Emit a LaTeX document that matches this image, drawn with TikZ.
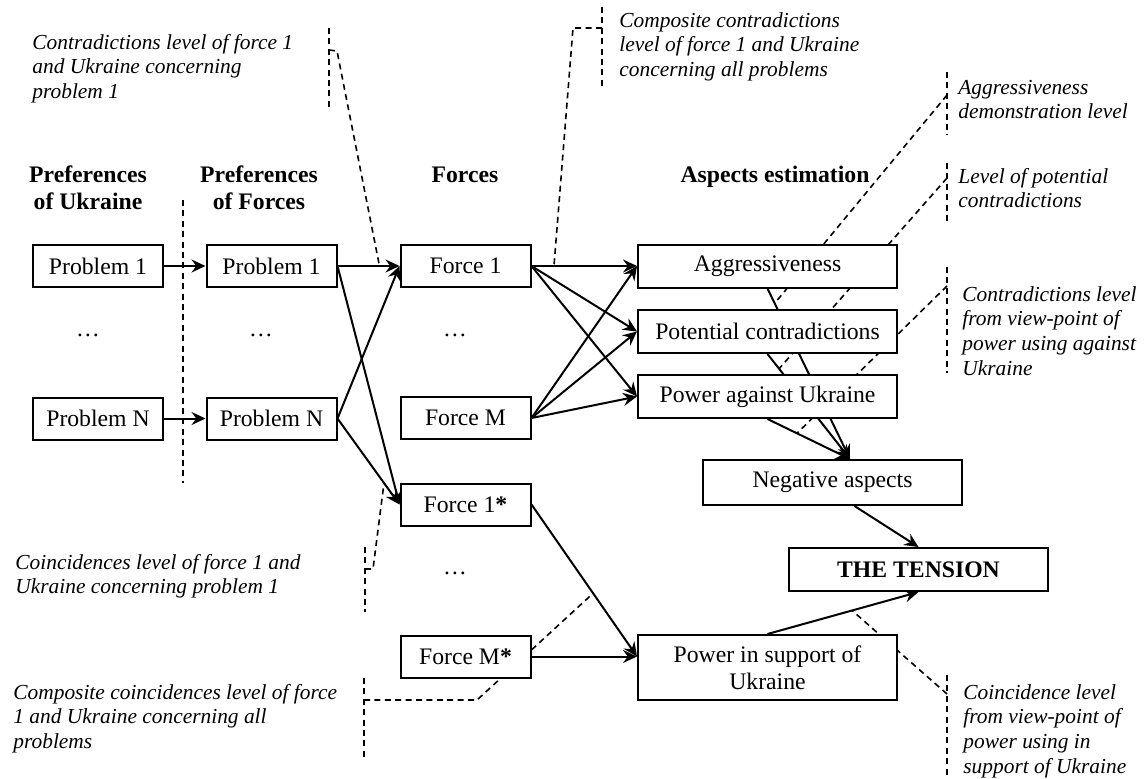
\documentclass[tikz,border=0pt]{standalone}
\usepackage{fontspec}
\setmainfont{Liberation Serif}
\usetikzlibrary{arrows.meta,backgrounds,calc}
\newcommand\upf{\fontsize{11.85}{13.5}\selectfont}
\newcommand\itf{\itshape\fontsize{10.7}{12.4}\selectfont}
\newcommand\lftlines[1]{\vtop{\halign{##\hfil\cr#1\crcr}}}
\newcommand\ctrlines[1]{\vtop{\halign{\hfil##\hfil\cr#1\crcr}}}
\begin{document}
\begin{tikzpicture}[x=0.5pt,y=-0.5pt,
  box/.style={draw,line width=1pt,fill=white,inner sep=0pt,font=\upf,align=center},
  pbox/.style={box,minimum width=65pt,minimum height=21pt},
  abox/.style={box,minimum width=129.5pt,minimum height=21.5pt},
  arr/.style={line width=1pt,-{Stealth[length=7pt,width=6.5pt,inset=2.4pt]}},
  dsh/.style={line width=0.8pt,dash pattern=on 3pt off 2.2pt},
  head/.style={font=\upf\bfseries,inner sep=0pt,anchor=base},
  note/.style={font=\itf,inner sep=0pt,anchor=base west},
  dots/.style={font=\upf,inner sep=0pt,anchor=base}]
\useasboundingbox (0,0) rectangle (1144,778);

% headers
\node[head] (hu) at (88,182) {\ctrlines{Preferences\cr of Ukraine}};
\node[head] (hf) at (259,182) {\ctrlines{Preferences\cr of Forces}};
\node[head] (hfo) at (465,182) {Forces};
\node[head] (ha) at (775,182) {Aspects estimation};

% boxes
\node[pbox] (p1u) at (98,266) {Problem 1};
\node[pbox] (pnu) at (98,418.5) {Problem N};
\node[pbox] (p1f) at (271.5,266) {Problem 1};
\node[pbox] (pnf) at (271.5,418.5) {Problem N};
\node[pbox] (f1) at (465.5,266) {Force 1};
\node[pbox] (fm) at (465.5,418) {Force M};
\node[pbox] (f1s) at (465.5,504.5) {Force 1\textbf{*}};
\node[pbox] (fms) at (465.5,656.5) {Force M\textbf{*}};
\node[abox] (agg) at (767.5,266) {Aggressiveness};
\node[abox] (pot) at (767.5,331.5) {Potential contradictions};
\node[abox] (pow) at (767.5,396.5) {Power against Ukraine};
\node[abox,minimum height=22.5pt] (neg) at (832.5,482.5) {Negative aspects};
\node[abox,font=\upf\bfseries] (ten) at (918.5,569.5) {THE TENSION};
\node[abox,minimum height=32.5pt] (pis) at (767.5,667.5) {Power in support of\\Ukraine};

% dots
\node[dots] (d1) at (88,336.5) {\ldots};
\node[dots] (d2) at (261,336.5) {\ldots};
\node[dots] (d3) at (455,336.5) {\ldots};
\node[dots] (d4) at (455,574.5) {\ldots};

% notes
\node[note] (a1) at (32,49) {\lftlines{Contradictions level of force 1\cr and Ukraine concerning\cr problem 1}};
\node[note] (a2) at (619,27) {\lftlines{Composite contradictions\cr level of force 1 and Ukraine\cr concerning all problems}};
\node[note] (a3) at (958,94) {\lftlines{Aggressiveness\cr demonstration level}};
\node[note] (a4) at (958,183) {\lftlines{Level of potential\cr contradictions}};
\node[note] (a5) at (962,301) {\lftlines{Contradictions level\cr from view-point of\cr power using against\cr Ukraine}};
\node[note] (a6) at (15,569) {\lftlines{Coincidences level of force 1 and\cr Ukraine concerning problem 1}};
\node[note] (a7) at (13,699) {\lftlines{Composite coincidences level of force\cr 1 and Ukraine concerning all\cr problems}};
\node[note] (a8) at (963,699) {\lftlines{Coincidence level\cr from view-point of\cr power using in\cr support of Ukraine}};

% connector helper coordinates
\coordinate (negin) at ([xshift=8.75pt]neg.north);
\coordinate (pisin) at ([yshift=5.5pt]pis.west);
\coordinate (negout) at ([xshift=11pt]neg.south);

\begin{pgfonlayer}{background}
% solid connectors
\draw[arr] (p1u.east) -- (p1f.west);
\draw[arr] (pnu.east) -- (pnf.west);
\draw[arr] (p1f.east) -- (f1.west);
\draw[arr] (pnf.east) -- (f1.west);
\draw[arr] (p1f.east) -- (f1s.west);
\draw[arr] (pnf.east) -- (f1s.west);
\draw[arr] (f1.east) -- (agg.west);
\draw[arr] (f1.east) -- (pot.west);
\draw[arr] (f1.east) -- (pow.west);
\draw[arr] (fm.east) -- (agg.west);
\draw[arr] (fm.east) -- (pot.west);
\draw[arr] (fm.east) -- (pow.west);
\draw[arr] (agg.south) -- (negin);
\draw[arr] (pot.south) -- (negin);
\draw[arr] (pow.south) -- (negin);
\draw[arr] (negout) -- (ten.north);
\draw[arr] (f1s.east) -- (pisin);
\draw[arr] (fms.east) -- (pisin);
\draw[arr] (pis.north) -- (ten.south);

% points on connectors
\coordinate (c1) at ($(p1f.east)!0.677!(f1.west)$);
\coordinate (c2) at ($(f1.east)!0.213!(agg.west)$);
\coordinate (c3) at ($(agg.south)!0.087!(negin)$);
\coordinate (c4) at ($(pot.south)!0.14!(negin)$);
\coordinate (c5) at ($(pow.south)!0.357!(negin)$);
\coordinate (c6) at ($(pnf.east)!0.75!(f1s.west)$);
\coordinate (c7) at ($(f1s.east)!0.584!(pisin)$);
\coordinate (c8) at ($(pis.north)!0.56!(ten.south)$);

% brackets
\draw[dsh] (183,200) -- (183,483);
\draw[dsh] (329,28) -- (329,110);
\draw[dsh] (602,7) -- (602,88);
\draw[dsh] (947,72) -- (947,135);
\draw[dsh] (947,163) -- (947,222);
\draw[dsh] (947,267) -- (947,373);
\draw[dsh] (365,547) -- (365,612);
\draw[dsh] (364,678) -- (364,758);
\draw[dsh] (947,675) -- (947,778);

% note connectors
\coordinate (b1) at (329,50);
\coordinate (b2) at (602,28);
\coordinate (b3) at (947,95);
\coordinate (b4) at (947,178);
\coordinate (b5) at (947,286);
\coordinate (b6) at (365,569);
\coordinate (b7) at (364,700);
\coordinate (b8) at (947,694);
\draw[dsh] (b1) -- ++(8,1) -- (c1);
\draw[dsh] (b2) -- ++(-29,0) -- (c2);
\draw[dsh] (b3) -- (c3);
\draw[dsh] (b4) -- (c4);
\draw[dsh] (b5) -- (c5);
\draw[dsh] (b6) -- ++(8,0) -- (c6);
\draw[dsh] (b7) -- ++(113,0) -- (c7);
\draw[dsh] (b8) -- (c8);
\end{pgfonlayer}
\end{tikzpicture}
\end{document}
